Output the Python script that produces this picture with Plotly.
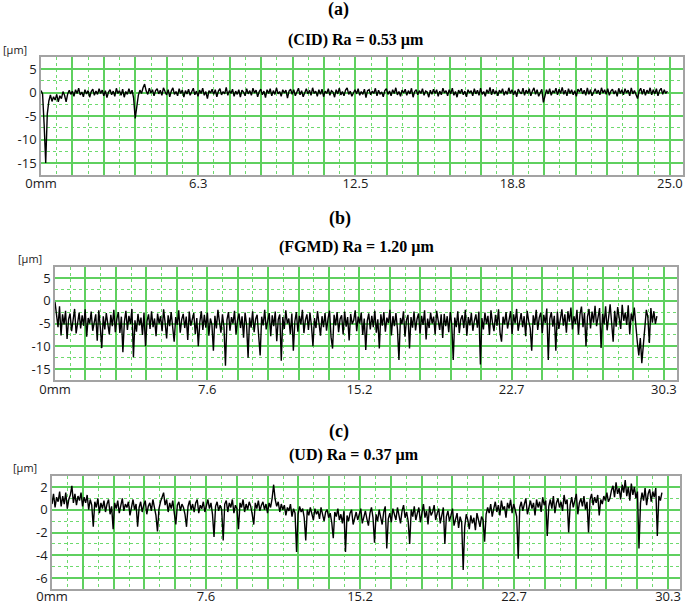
import numpy as np
import plotly.graph_objects as go

# ---------------- data ----------------
# (a) CID profile, 0 .. 24.9 mm
cid_end_mm = 24.9
cid_um = [
    0.4, -0.3, -6.8, -15.0, -4.6, -1.8, -0.5, -1.9, -0.9, -1.6, -0.4, -2.0, -0.7, -1.3, 0.2, -0.6, -2.0, -0.3, 0.5, -0.4,
    0.3, -0.8, 0.6, -0.2, 0.9, -0.5, 0.1, -0.9, 0.6, -0.3, 0.4, -1.0, 0.2, 0.7, -0.6, 0.3, -0.4, 0.8, -0.2, 0.5,
    -0.7, 0.4, -1.1, 0.1, 0.6, -0.5, 0.3, -0.8, 0.9, -0.2, 0.4, -0.6, 0.7, -1.0, 0.2, -0.4, 0.8, -0.3, 0.5, -1.2,
    -5.5, -2.4, -0.6, 0.5, -0.2, 1.0, 1.8, 0.3, -0.4, 0.9, -0.1, 0.6, -0.7, 0.4, 0.8, -0.3, 0.5, -0.6, 1.0, 0.2,
    -0.5, 0.6, -0.9, 0.3, 1.0, -0.4, 0.2, -0.7, 0.8, -0.2, 0.5, -1.0, 0.4, -0.3, 0.7, -0.6, 0.1, 0.9, -0.5, 0.3,
    -0.8, 0.5, -0.2, 0.9, -0.6, 0.2, -1.3, 0.4, -0.1, 0.7, -0.4, 0.6, -0.9, 0.3, 0.8, -0.5, 0.2, -0.3, 1.1, -0.6,
    0.4, -0.2, 0.7, -0.8, 0.3, -0.4, 0.6, -1.0, 0.5, 0.1, -0.7, 0.8, -0.3, 0.4, -0.6, 0.9, -0.1, 0.5, -0.9, 0.2,
    0.7, -0.5, 0.3, -1.1, 0.6, -0.2, 0.8, -0.7, 0.4, -0.4, 1.0, -0.3, 0.2, -0.8, 0.6, -0.1, 0.5, -1.2, 0.3, 0.7,
    -0.4, 0.6, -0.7, 0.2, 0.9, -0.5, 0.4, -0.9, 0.1, 0.8, -0.3, 0.5, -0.6, 1.0, -0.2, 0.3, -0.8, 0.6, -0.4, 0.7,
    -0.9, 0.3, -0.2, 0.8, -0.6, 0.4, 0.1, -1.0, 0.6, -0.3, 0.9, -0.5, 0.2, -0.7, 0.5, 1.0, -0.4, 0.3, -0.8, 0.1,
    0.6, -0.3, 0.8, -0.6, 0.2, -0.4, 0.7, -1.1, 0.4, 0.6, -0.5, 0.3, -0.2, 0.9, -0.7, 0.5, -0.3, 0.1, -0.9, 0.4,
    0.8, -0.4, 0.3, -0.7, 0.6, -0.2, 1.0, -0.5, 0.2, -0.8, 0.5, -0.1, 0.7, -0.6, 0.4, -0.3, 0.9, -1.0, 0.2, 0.6,
    -0.5, 0.4, -0.2, 0.8, -0.6, 0.3, 0.1, -1.0, 0.5, -0.4, 0.7, -0.2, 0.6, -0.8, 0.3, -0.5, 0.9, -0.1, 0.4, -0.7,
    0.6, -0.3, 0.9, -0.6, 0.2, -1.0, 0.5, -0.2, 0.7, -0.5, 0.3, -0.9, 0.6, -0.1, 0.4, -0.7, 0.8, -0.3, 0.5, -0.6,
    0.9, -0.4, 0.2, -0.8, 0.6, -0.2, 1.1, -0.5, 0.7, -0.3, 0.4, -0.7, 0.5, -0.1, 0.8, -0.6, 0.3, -0.4, 1.0, -0.2,
    0.6, -0.5, 0.4, -0.9, 0.7, 0.1, -0.3, 0.9, -0.6, 0.5, -0.2, 0.8, -0.7, 0.3, 1.0, -0.4, 0.6, -0.8, 0.2, 0.7,
    -2.1, -0.5, 0.6, -0.3, 0.8, -0.6, 0.4, -0.1, 0.9, -0.5, 0.7, -0.2, 1.1, -0.4, 0.5, -0.7, 0.8, -0.2, 0.6, -0.5,
    0.4, -0.8, 0.7, 0.1, 0.9, -0.3, 0.5, -0.6, 1.0, -0.4, 0.6, -0.7, 0.3, 0.8, -0.2, 0.5, -0.5, 1.0, -0.1, 0.6,
    -0.4, 0.8, -0.6, 0.3, 0.7, -0.3, 0.4, -0.8, 0.9, -0.2, 0.6, -0.5, 0.8, -0.1, 0.5, -0.7, 1.0, -0.3, 0.4, -0.6,
    -1.3, 0.3, 0.9, -0.4, 0.7, -0.6, 0.5, -0.2, 1.0, -0.5, 0.6, -0.3, 0.8, -0.7, 0.4, 0.9, -0.4, 0.6, -0.2, 0.3,
]

# (b) FGMD profile, 0 .. 29.95 mm
fgmd_end_mm = 29.95
fgmd_um = [
    -0.3, -2.5, -5.8, -1.2, -7.6, -3.0, -5.2, -2.2, -8.4, -4.1, -2.8, -6.7, -3.6, -1.8, -7.2, -4.4, -2.6, -6.1, -3.2, -5.5,
    -1.9, -7.9, -3.8, -5.0, -2.4, -6.6, -4.2, -3.0, -8.8, -2.1, -5.7, -10.4, -3.4, -6.3, -2.7, -4.9, -7.4, -3.1, -5.6, -2.0,
    -6.9, -4.0, -2.5, -7.1, -3.5, -11.3, -4.6, -2.2, -6.4, -3.3, -5.1, -1.8, -12.4, -4.3, -6.8, -2.9, -5.4, -3.7, -7.5, -2.6,
    -10.0, -4.5, -3.0, -6.2, -2.3, -5.8, -3.9, -7.8, -2.8, -5.0, -3.4, -6.7, -1.9, -4.8, -8.3, -3.2, -5.6, -2.5, -6.5, -9.0,
    -3.6, -5.3, -2.1, -7.0, -4.1, -2.9, -6.0, -3.5, -8.6, -2.4, -5.5, -4.0, -2.7, -7.3, -3.8, -10.0, -4.7, -2.3, -6.4, -3.1,
    -5.9, -2.6, -7.7, -3.9, -5.2, -11.0, -3.3, -6.1, -2.0, -4.6, -7.0, -3.0, -5.7, -14.3, -4.2, -2.5, -6.6, -3.6, -5.0, -2.2,
    -7.4, -4.3, -2.8, -6.0, -3.4, -8.1, -2.6, -5.3, -12.5, -3.7, -5.9, -2.3, -6.9, -4.0, -3.1, -7.6, -12.0, -3.5, -5.4, -2.0,
    -6.3, -4.4, -2.7, -7.8, -3.2, -5.6, -2.4, -8.9, -4.1, -3.0, -13.2, -3.6, -6.2, -2.1, -5.0, -3.9, -7.3, -2.8, -11.0, -4.5,
    -2.5, -6.8, -3.3, -5.2, -2.0, -7.1, -4.2, -3.0, -6.4, -2.6, -5.5, -10.0, -3.8, -6.0, -2.3, -4.9, -7.7, -3.4, -5.8, -2.7,
    -6.6, -3.9, -2.2, -8.0, -10.5, -3.1, -5.4, -2.5, -6.9, -4.0, -3.2, -7.4, -2.4, -5.7, -3.6, -8.7, -2.9, -5.1, -4.3, -2.1,
    -6.7, -3.5, -5.0, -2.6, -7.5, -3.9, -10.8, -4.4, -2.8, -6.3, -3.3, -5.8, -2.2, -7.0, -4.1, -10.5, -3.0, -5.5, -2.5, -6.8,
    -3.7, -4.9, -2.0, -7.6, -3.4, -5.6, -2.7, -6.2, -13.0, -3.8, -5.1, -2.3, -7.9, -4.2, -3.1, -10.5, -3.6, -5.9, -2.4, -6.5,
    -4.0, -2.8, -7.2, -3.3, -5.3, -2.1, -8.5, -3.9, -6.0, -2.6, -5.0, -3.5, -7.4, -2.2, -4.7, -6.4, -3.0, -8.2, -2.9, -5.6,
    -3.4, -6.9, -2.5, -5.2, -13.0, -3.7, -5.8, -2.3, -7.1, -4.1, -3.2, -6.0, -2.0, -7.7, -3.6, -5.4, -2.7, -6.6, -4.4, -3.0,
    -5.9, -2.4, -14.0, -3.8, -6.3, -2.6, -5.1, -3.3, -7.5, -2.1, -4.8, -6.7, -3.1, -5.5, -1.9, -7.0, -9.0, -3.5, -5.2, -2.5,
    -6.1, -3.9, -2.3, -7.3, -3.0, -5.0, -1.8, -6.6, -4.2, -2.7, -5.8, -3.4, -7.8, -2.2, -4.5, -6.0, -11.0, -3.2, -5.3, -2.0,
    -6.4, -3.7, -2.6, -7.1, -3.1, -4.9, -1.7, -13.0, -4.0, -2.5, -5.7, -3.3, -11.0, -2.4, -6.2, -3.6, -1.9, -5.5, -3.0, -7.0,
    -2.3, -4.6, -1.5, -6.3, -3.4, -5.1, -2.0, -7.4, -3.0, -1.3, -5.8, -2.7, -10.0, -3.5, -1.8, -6.1, -2.4, -4.8, -1.1, -5.6,
    -3.1, -1.6, -10.4, -2.9, -5.2, -1.2, -6.5, -3.6, -0.8, -4.9, -9.0, -2.2, -5.7, -1.4, -3.9, -6.2, -0.9, -4.4, -2.6, -5.3,
    -1.0, -7.4, -2.8, -4.5, -1.5, -6.0, -9.0, -12.0, -8.2, -13.7, -10.0, -5.5, -2.0, -3.6, -9.3, -1.6, -4.8, -2.3, -5.1, -3.4,
]

# (c) UD profile, 0 .. 30.0 mm
ud_end_mm = 30.0
ud_um = [
    0.5, 1.4, 0.2, 1.1, 0.7, 1.6, 0.3, 1.2, 0.5, 1.5, 0.1, 0.9, 1.3, 2.1, 0.6, 1.4, 0.4, 1.2, 0.8, 1.5,
    0.3, 1.1, 0.6, 1.3, 0.0, 0.9, 0.4, -1.5, 0.7, 0.2, 1.0, -0.3, 0.6, 0.1, 0.8, -0.2, 0.5, 0.9, -0.4, 0.3,
    -1.7, 0.6, 0.1, 0.8, -0.3, 0.4, 1.0, -0.1, 0.5, 0.2, 0.7, -0.5, 0.3, 0.9, 0.0, 0.5, -1.5, 0.2, 0.7, -0.2,
    0.4, 0.8, -0.4, 0.3, 0.6, -0.1, 0.9, 0.2, -0.5, -1.9, 0.1, 0.7, 1.1, 1.5, 0.4, 0.9, -0.2, 0.6, 0.1, 0.8,
    -0.3, -1.3, 0.4, 0.7, -0.1, 0.5, 0.2, -0.4, -1.5, 0.3, 0.8, 0.0, 0.5, -0.2, 0.6, 0.9, -0.3, 0.4, 0.1, 0.7,
    -0.2, 0.5, 0.9, 0.1, 0.6, -0.4, -2.4, 0.3, 0.7, -0.1, 0.4, 0.0, -2.7, 0.5, 0.8, -0.2, 0.6, 0.2, 0.9, -0.3,
    0.4, 0.1, -1.7, 0.6, 0.2, 0.9, -0.2, 0.5, 0.0, 0.7, 0.3, -0.4, -1.3, 0.6, 0.1, 0.8, -0.1, 0.4, 0.7, 0.0,
    0.5, -0.3, 0.6, 0.2, 1.0, 2.2, 0.9, 0.3, 0.7, -0.2, 0.5, 0.0, 0.4, -0.5, 0.2, -0.1, 0.5, -0.6, 0.1, -0.3,
    -3.7, -0.4, 0.3, -0.2, 0.1, -0.7, -2.7, 0.0, -0.5, 0.2, -0.3, -0.9, 0.1, -0.4, -0.1, -0.8, 0.2, -0.5, -1.0, -0.2,
    0.0, -0.7, -0.3, -1.1, -2.5, -0.2, -0.6, 0.1, -0.9, -0.4, -1.2, -0.1, -3.7, -0.5, -1.0, -0.3, 0.0, -1.3, -0.6, -0.2,
    -0.9, -0.4, 0.1, -1.2, -0.5, -0.1, -0.8, -1.4, -0.3, 0.2, -0.7, -2.9, -0.4, -1.0, 0.0, -0.6, -1.3, -0.2, 0.3, -3.4,
    -0.8, -0.3, -1.1, 0.1, -0.5, -0.9, 0.2, -0.4, -1.2, -0.1, 0.4, -0.7, -0.2, -1.0, -3.0, 0.0, -0.6, 0.3, -0.9, -0.3,
    0.2, -1.1, -0.4, 0.5, -0.7, -0.1, -1.3, 0.3, -0.5, -0.2, 0.4, -0.9, -0.3, 0.1, -1.2, -0.4, 0.2, -3.0, -0.6, -0.1,
    -1.0, -0.5, 0.1, -1.4, -0.8, -0.3, -1.6, -0.6, -1.1, -5.3, -1.5, -0.4, -0.9, -1.7, -0.5, -1.2, -0.7, -1.8, -0.3, -1.0,
    -1.5, -0.6, -0.9, -2.8, -0.4, 0.2, -0.3, 0.5, -0.6, 0.1, 0.7, -0.2, 0.4, -0.5, 0.8, 0.0, 0.3, -0.7, 0.6, 0.1,
    0.9, -0.3, 0.5, 0.0, -0.6, -4.3, 0.2, 0.7, -0.1, 0.5, 1.0, -0.4, 0.3, 0.8, 0.1, 0.6, -0.5, 0.9, 0.2, 0.7,
    -0.2, 1.1, 0.4, 0.8, -2.3, 0.3, 0.9, 0.1, 1.2, -0.3, 0.6, 1.0, 0.2, 0.7, -0.1, 1.3, 0.5, 0.9, -2.0, 0.4,
    1.1, 0.2, 0.8, 1.4, -0.4, 0.6, 1.0, 0.3, 1.2, 0.0, 0.7, -2.0, 0.9, 1.4, 0.4, 1.1, 0.6, 1.3, -0.5, 0.9,
    0.5, 1.2, 0.8, 1.5, 0.7, 1.0, 1.7, 2.1, 1.1, 2.4, 1.4, 1.9, 0.9, 2.2, 1.5, 2.6, 1.2, 2.0, 0.8, 2.3,
    1.3, 2.0, 1.0, 1.6, -3.4, 0.6, 1.5, 0.8, 1.9, 0.4, 1.4, 1.8, 0.7, 1.6, 1.1, 1.9, -2.3, 1.2, 0.8, 1.5,
]

# tick labels
cid_xtick_text = ["0mm", "6.3", "12.5", "18.8", "25.0"]
long_xtick_text = ["0mm", "7.6", "15.2", "22.7", "30.3"]
ab_ytick_vals = [-15, -10, -5, 0, 5]
ab_ytick_text = ["-15", "-10", "-5", "0", "5"]
c_ytick_vals = [-6, -4, -2, 0, 2]
c_ytick_text = ["-6", "-4", "-2", "0", "2"]

panel_letters = ["(a)", "(b)", "(c)"]
panel_titles = ["(CID) Ra = 0.53 µm", "(FGMD) Ra = 1.20 µm", "(UD) Ra = 0.37 µm"]

# ---------------- figure ----------------
W, H = 685, 605
GREEN = "rgb(95,208,95)"
GREEN_MINOR = "rgb(110,218,110)"
FRAME = "#a3a3a3"
TICKFONT = dict(family="Open Sans", size=13, color="#1a1a1a")


def px_x(p):
    return p / W


def px_y(p):
    return 1 - p / H


def x_axis(domain, full_len, rng, labels, anchor, standoff):
    major = full_len / 20.0
    vals = [major * k for k in range(21)]
    text = [labels[k // 5] if k % 5 == 0 else "" for k in range(21)]
    return dict(
        domain=domain, range=rng, anchor=anchor, tickmode="array", tickvals=vals, ticktext=text,
        showgrid=True, gridcolor=GREEN, gridwidth=1.6, zeroline=False,
        showline=True, mirror=True, linecolor=FRAME, linewidth=1.5,
        ticks="", tickfont=TICKFONT, fixedrange=True, automargin=False,
        ticklabelstandoff=standoff,
        minor=dict(tickmode="linear", tick0=0, dtick=major / 2, showgrid=True,
                   gridcolor=GREEN_MINOR, gridwidth=1.3, griddash="dot"),
    )


def y_axis(domain, rng, vals, text, minor_step, anchor):
    return dict(
        domain=domain, range=rng, anchor=anchor, tickmode="array", tickvals=vals, ticktext=text,
        showgrid=True, gridcolor=GREEN, gridwidth=1.6, zeroline=False,
        showline=True, mirror=True, linecolor=FRAME, linewidth=1.5,
        ticks="", tickfont=TICKFONT, fixedrange=True, automargin=False,
        minor=dict(tickmode="linear", tick0=0, dtick=minor_step, showgrid=True,
                   gridcolor=GREEN_MINOR, gridwidth=1.3, griddash="dot"),
    )


fig = go.Figure()
series = [(cid_um, cid_end_mm), (fgmd_um, fgmd_end_mm), (ud_um, ud_end_mm)]
for k, (vals, end) in enumerate(series):
    sfx = "" if k == 0 else str(k + 1)
    fig.add_trace(go.Scatter(
        x=np.linspace(0, end, len(vals)), y=vals, mode="lines",
        line=dict(color="#000000", width=1.4),
        xaxis="x" + sfx, yaxis="y" + sfx, showlegend=False, hoverinfo="skip",
    ))

fig.update_layout(
    width=W, height=H, margin=dict(l=0, r=0, t=0, b=0, autoexpand=False),
    paper_bgcolor="white", plot_bgcolor="white", showlegend=False,
    xaxis=x_axis([px_x(41), px_x(683)], 25.0, [0, 25.52], cid_xtick_text, "y", -4),
    yaxis=y_axis([px_y(174.75), px_y(57.25)], [-17.5, 7.5], ab_ytick_vals, ab_ytick_text, 2.5, "x"),
    xaxis2=x_axis([px_x(55), px_x(677)], 30.3, [0, 30.95], long_xtick_text, "y2", -4),
    yaxis2=y_axis([px_y(380.4), px_y(266.6)], [-17.5, 7.5], ab_ytick_vals, ab_ytick_text, 2.5, "x2"),
    xaxis3=x_axis([px_x(52), px_x(680)], 30.3, [0, 30.89], long_xtick_text, "y3", -6),
    yaxis3=y_axis([px_y(589.4), px_y(475.6)], [-7, 3], c_ytick_vals, c_ytick_text, 1, "x3"),
)

letter_pos = [(338, 10), (340, 218), (339, 431)]
title_pos = [(356, 40), (356, 247), (354, 455)]
unit_pos = [(15, 50), (30, 259), (25, 467)]
for k in range(3):
    fig.add_annotation(text="<b>" + panel_letters[k] + "</b>", xref="paper", yref="paper",
                       x=px_x(letter_pos[k][0]), y=px_y(letter_pos[k][1]),
                       showarrow=False, xanchor="center", yanchor="middle",
                       font=dict(family="Liberation Serif", size=18, color="black"))
    fig.add_annotation(text="<b>" + panel_titles[k] + "</b>", xref="paper", yref="paper",
                       x=px_x(title_pos[k][0]), y=px_y(title_pos[k][1]),
                       showarrow=False, xanchor="center", yanchor="middle",
                       font=dict(family="Liberation Serif", size=16, color="black"))
    fig.add_annotation(text="[µm]", xref="paper", yref="paper",
                       x=px_x(unit_pos[k][0]), y=px_y(unit_pos[k][1]),
                       showarrow=False, xanchor="center", yanchor="middle",
                       font=dict(family="Open Sans", size=11, color="#1a1a1a"))

# remove the default 8px page margin so the figure sits at the window's top-left corner
fig.write_html("out.html", config={"displayModeBar": False},
               post_script="document.body.style.margin='0';")
